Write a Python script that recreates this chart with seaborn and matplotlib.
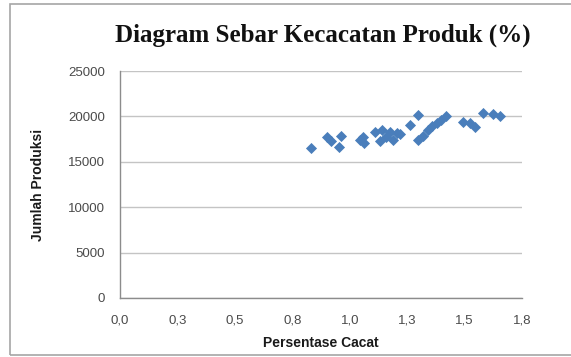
import matplotlib
matplotlib.use("Agg")
import matplotlib.pyplot as plt
import seaborn as sns
import pandas as pd
from matplotlib.patches import Rectangle

# Defect percentage vs. production quantity
persentase_cacat = [0.832, 0.901, 0.919, 0.953, 0.962, 1.045, 1.062, 1.058,
                    1.110, 1.132, 1.141, 1.158, 1.175, 1.189, 1.206, 1.219,
                    1.262, 1.297, 1.297, 1.319, 1.341, 1.358, 1.380, 1.397,
                    1.419, 1.493, 1.524, 1.546, 1.580, 1.624, 1.654]
jumlah_produksi = [16520, 17730, 17290, 16630, 17840, 17400, 17070, 17730,
                   18280, 17290, 18500, 17730, 18280, 17400, 18170, 18060,
                   19050, 20150, 17400, 17840, 18500, 18940, 19270, 19600,
                   20040, 19380, 19270, 18830, 20370, 20260, 20040]

x_ticks = [0.0, 0.25, 0.5, 0.75, 1.0, 1.25, 1.5, 1.75]
x_tick_labels = ["0,0", "0,3", "0,5", "0,8", "1,0", "1,3", "1,5", "1,8"]
y_ticks = [0, 5000, 10000, 15000, 20000, 25000]
y_tick_labels = ["0", "5000", "10000", "15000", "20000", "25000"]

df = pd.DataFrame({"Persentase Cacat": persentase_cacat,
                   "Jumlah Produksi": jumlah_produksi})

sns.set_style("white")
plt.rcParams["font.family"] = ["Liberation Sans", "DejaVu Sans"]

W, H = 571, 357
fig = plt.figure(figsize=(W / 100, H / 100), dpi=100)
fig.patch.set_facecolor("white")

# chart-area frame
fig.patches.append(Rectangle((10 / W, 1 - 355 / H), (W + 5 - 10) / W, (355 - 4) / H,
                             transform=fig.transFigure, fill=False,
                             edgecolor="#a6a6a6", linewidth=1.2))

ax = fig.add_axes([120 / W, 1 - 298 / H, 402 / W, 227 / H])

sns.scatterplot(data=df, x="Persentase Cacat", y="Jumlah Produksi", ax=ax,
                marker="D", s=32, color="#4a7ebb", linewidth=0, zorder=3)

ax.set_xlim(0, 1.75)
ax.set_ylim(0, 25000)
ax.set_xticks(x_ticks)
ax.set_xticklabels(x_tick_labels)
ax.set_yticks(y_ticks)
ax.set_yticklabels(y_tick_labels)

ax.grid(axis="y", color="#c4c4c4", linewidth=1.0)
ax.set_axisbelow(True)
for side in ("top", "right"):
    ax.spines[side].set_visible(False)
for side in ("left", "bottom"):
    ax.spines[side].set_color("#8c8c8c")
    ax.spines[side].set_linewidth(1.0)

ax.tick_params(axis="both", direction="out", length=4, width=0.8,
               color="#8c8c8c", labelcolor="#4a4a4a", labelsize=9.5, pad=7)
ax.tick_params(axis="x", pad=8)

ax.set_xlabel("Persentase Cacat", fontsize=10, fontweight="bold",
              color="#1a1a1a", labelpad=7)
ax.set_ylabel("Jumlah Produksi", fontsize=10, fontweight="bold",
              color="#1a1a1a", labelpad=16)

fig.text(323 / W, 1 - 42 / H, "Diagram Sebar Kecacatan Produk (%)",
         ha="center", va="baseline", fontsize=18, fontweight="bold",
         family=["Liberation Serif", "DejaVu Serif"], color="#111111")

fig.savefig("out.png", dpi=100)
